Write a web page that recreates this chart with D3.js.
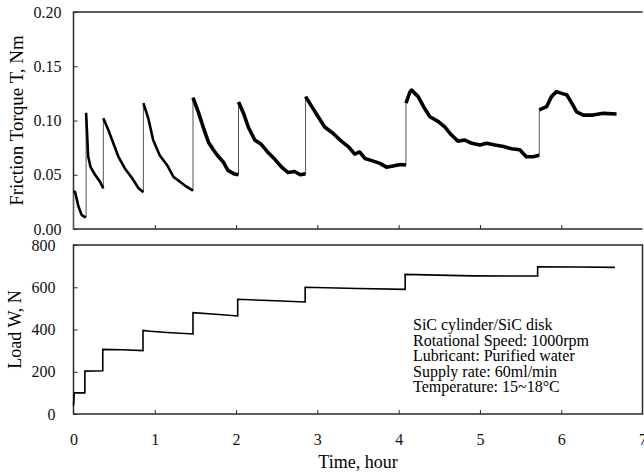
<!DOCTYPE html>
<html>
<head>
<meta charset="utf-8">
<script src="https://cdn.jsdelivr.net/npm/d3@7"></script>
<style>
  body { margin: 0; background: #fff; }
  svg, svg text { font-family: "Liberation Serif", "Times New Roman", serif; }
</style>
</head>
<body>
<div id="chart"></div>
<script>
// ***************** data *****************
// torque trace, repeated time = vertical jump at a load step
const torqueTime = [0, 0, 0.02, 0.06, 0.10, 0.14, 0.155,
  0.155, 0.18, 0.21, 0.265, 0.33, 0.367,
  0.367, 0.43, 0.49, 0.55, 0.63, 0.72, 0.80, 0.86,
  0.86, 0.92, 0.98, 1.06, 1.15, 1.23, 1.31, 1.39, 1.47,
  1.47, 1.535, 1.60, 1.66, 1.72, 1.78, 1.84, 1.90, 1.97, 2.03,
  2.03, 2.09, 2.15, 2.23, 2.31, 2.40, 2.48, 2.56, 2.64, 2.72, 2.79, 2.855,
  2.855, 2.93, 3.01, 3.09, 3.18, 3.28, 3.38, 3.46, 3.52, 3.585, 3.67, 3.77, 3.85, 3.93, 4.02, 4.09,
  4.09, 4.14, 4.16, 4.24, 4.32, 4.385, 4.49, 4.57, 4.65, 4.73, 4.815, 4.90, 5.0, 5.08, 5.185, 5.29, 5.39, 5.49, 5.57, 5.655, 5.73,
  5.73, 5.82, 5.88, 5.94, 6.005, 6.07, 6.13, 6.19, 6.27, 6.39, 6.52, 6.68]
const torqueVal = [0, 0.035, 0.034, 0.021, 0.013, 0.011, 0.011,
  0.107, 0.067, 0.057, 0.050, 0.043, 0.0375,
  0.102, 0.091, 0.079, 0.067, 0.056, 0.047, 0.0375, 0.034,
  0.116, 0.102, 0.082, 0.068, 0.059, 0.048, 0.0436, 0.039, 0.0353,
  0.121, 0.108, 0.093, 0.080, 0.073, 0.067, 0.062, 0.054, 0.051, 0.050,
  0.117, 0.107, 0.094, 0.082, 0.078, 0.070, 0.064, 0.057, 0.052, 0.053, 0.050, 0.051,
  0.122, 0.113, 0.1035, 0.094, 0.089, 0.082, 0.076, 0.069, 0.071, 0.065, 0.063, 0.0605, 0.057, 0.058, 0.0595, 0.059,
  0.116, 0.1265, 0.128, 0.122, 0.111, 0.1035, 0.099, 0.094, 0.0866, 0.081, 0.082, 0.079, 0.0774, 0.079, 0.0774, 0.076, 0.074, 0.073, 0.0666, 0.0666, 0.068,
  0.1097, 0.1127, 0.122, 0.1266, 0.125, 0.1235, 0.116, 0.108, 0.105, 0.105, 0.1066, 0.106]

// load trace
const loadTime = [0, 0.01, 0.14, 0.14, 0.36, 0.36, 0.6, 0.855, 0.855, 0.95, 1.15, 1.47, 1.47, 1.75, 2.02,
  2.02, 2.4, 2.85, 2.85, 3.5, 4.08, 4.08, 4.9, 5.71, 5.71, 6.2, 6.66]
const loadVal = [40, 100, 100, 203, 205, 306, 304, 300, 396, 392, 386, 379, 480, 472, 464,
  543, 537, 530, 600, 594, 590, 661, 654, 653, 697, 696, 694]

const xTicks = [0, 1, 2, 3, 4, 5, 6, 7]
const torqueTicks = [0, 0.05, 0.10, 0.15, 0.20]
const loadTicks = [0, 200, 400, 600, 800]

const notes = ["SiC cylinder/SiC disk", "Rotational Speed: 1000rpm", "Lubricant: Purified water",
  "Supply rate: 60ml/min", "Temperature: 15~18\u00B0C"]

// ***************** layout *****************
const width = 644
const height = 473
const left = 73.5
const right = 642.5
const top1 = 12, bottom1 = 229
const top2 = 245, bottom2 = 414
const axisColor = "#2a2a2a"
const serif = "'Liberation Serif', 'Times New Roman', serif"

const svg = d3.select("#chart").append("svg")
  .attr("width", width)
  .attr("height", height)

const x = d3.scaleLinear().domain([0, 7]).range([left, right])
const yT = d3.scaleLinear().domain([0, 0.2]).range([bottom1, top1])
const yL = d3.scaleLinear().domain([0, 800]).range([bottom2, top2])

function styleAxis(g) {
  g.attr("font-family", serif).attr("font-size", 16)
  g.select(".domain").remove()
  g.selectAll(".tick line").attr("stroke", axisColor).attr("stroke-width", 1)
  g.selectAll(".tick text").attr("fill", "#111")
}

// ***************** top panel: torque *****************
svg.append("g")
  .attr("transform", "translate(" + left + ",0)")
  .call(d3.axisLeft(yT).tickValues(torqueTicks).tickFormat(d3.format(".2f")).tickSize(-4).tickPadding(12))
  .call(styleAxis)

svg.append("g")
  .attr("transform", "translate(0," + bottom1 + ")")
  .call(d3.axisBottom(x).tickValues(xTicks.slice(1, 7)).tickFormat("").tickSize(-4))
  .call(styleAxis)

// frame: left, top, bottom
svg.append("path")
  .attr("d", "M" + right + "," + top1 + "H" + left + "V" + bottom1 + "H" + right)
  .attr("fill", "none")
  .attr("stroke", axisColor)
  .attr("stroke-width", 1.5)

const torquePts = torqueTime.map((t, i) => [t, torqueVal[i]])

// thin line for the whole trace (shows the jumps)
svg.append("path")
  .attr("d", d3.line().x(d => x(d[0])).y(d => yT(d[1]))(torquePts))
  .attr("fill", "none")
  .attr("stroke", "#555")
  .attr("stroke-width", 1)

// thick noisy band between jumps
let segs = [], cur = []
torquePts.forEach((p, i) => {
  if (i > 0 && p[0] === torquePts[i - 1][0]) { if (cur.length > 1) segs.push(cur); cur = [] }
  cur.push(p)
})
if (cur.length > 1) segs.push(cur)

svg.selectAll(".seg")
  .data(segs)
  .enter()
  .append("path")
  .attr("class", "seg")
  .attr("d", s => d3.line().x(d => x(d[0])).y(d => yT(d[1]))(s))
  .attr("fill", "none")
  .attr("stroke", "#000")
  .attr("stroke-width", (s, i) => i < 4 ? 2.6 : 3.6)
  .attr("stroke-linejoin", "round")

svg.append("text")
  .attr("transform", "translate(23," + ((top1 + bottom1) / 2) + ") rotate(-90)")
  .attr("text-anchor", "middle")
  .attr("font-family", serif)
  .style("font-size", "19px")
  .text("Friction Torque T, Nm")

// ***************** bottom panel: load *****************
svg.append("g")
  .attr("transform", "translate(" + left + ",0)")
  .call(d3.axisLeft(yL).tickValues(loadTicks).tickSize(-4).tickPadding(18))
  .call(styleAxis)

svg.append("g")
  .attr("transform", "translate(0," + bottom2 + ")")
  .call(d3.axisBottom(x).tickValues(xTicks).tickFormat(d3.format("d")).tickSize(-4).tickPadding(20))
  .call(styleAxis)
  .call(g => g.selectAll(".tick line").filter(d => d === 0 || d === 7).remove())

svg.append("rect")
  .attr("x", left)
  .attr("y", top2)
  .attr("width", right - left)
  .attr("height", bottom2 - top2)
  .attr("fill", "none")
  .attr("stroke", axisColor)
  .attr("stroke-width", 1.5)

svg.append("path")
  .attr("d", d3.line().x((t, i) => x(t)).y((t, i) => yL(loadVal[i]))(loadTime))
  .attr("fill", "none")
  .attr("stroke", "#000")
  .attr("stroke-width", 1.6)

svg.append("text")
  .attr("transform", "translate(21," + ((top2 + bottom2) / 2) + ") rotate(-90)")
  .attr("text-anchor", "middle")
  .attr("font-family", serif)
  .style("font-size", "18px")
  .text("Load W, N")

svg.append("text")
  .attr("x", (left + right) / 2)
  .attr("y", 468)
  .attr("text-anchor", "middle")
  .attr("font-family", serif)
  .style("font-size", "18px")
  .text("Time, hour")

// ***************** test conditions *****************
svg.append("g")
  .attr("font-family", serif)
  .selectAll("text")
  .data(notes)
  .enter()
  .append("text")
  .attr("x", 413)
  .attr("y", (d, i) => 330 + i * 15.5)
  .style("font-size", "16px")
  .text(d => d)
</script>
</body>
</html>
